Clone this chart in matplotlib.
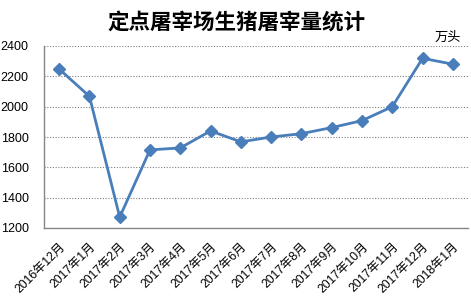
import matplotlib
matplotlib.use("Agg")
import matplotlib.pyplot as plt

plt.rcParams['font.family'] = ['Liberation Sans', 'Noto Sans CJK SC', 'DejaVu Sans']

categories = ["2016年12月", "2017年1月", "2017年2月", "2017年3月", "2017年4月", "2017年5月",
              "2017年6月", "2017年7月", "2017年8月", "2017年9月", "2017年10月", "2017年11月",
              "2017年12月", "2018年1月"]
values = [2248, 2068, 1272, 1715, 1728, 1840, 1768, 1800, 1822, 1862, 1908, 2000, 2319, 2280]
yticks = [1200, 1400, 1600, 1800, 2000, 2200, 2400]

W, H = 471, 303
fig = plt.figure(figsize=(W/100, H/100), dpi=100)
ax = fig.add_axes([44/W, 1-228/H, (468-44)/W, (228-46)/H])

x = list(range(len(categories)))
ax.plot(x, values, color='#4a7ebb', lw=2, marker='D', markersize=6.5,
        markerfacecolor='#4a7ebb', markeredgecolor='#4a7ebb', zorder=3)

ax.set_xlim(-0.5, len(categories)-0.5)
ax.set_ylim(1200, 2400)
ax.set_yticks(yticks)
ax.set_yticklabels([str(v) for v in yticks], fontsize=9)
ax.set_xticks(x)
ax.set_xticklabels(categories, rotation=45, ha='right', rotation_mode='anchor', fontsize=8.8)
ax.tick_params(axis='x', length=0, pad=9)
ax.tick_params(axis='y', length=0, pad=11)
ax.yaxis.grid(True, linestyle=(0, (1, 1.5)), color='#808080', lw=0.8)
ax.set_axisbelow(True)
for s in ['top', 'right']:
    ax.spines[s].set_visible(False)
for s in ['left', 'bottom']:
    ax.spines[s].set_color('#868686')
    ax.spines[s].set_linewidth(1)

fig.text(236/W, 1-22/H, "定点屠宰场生猪屠宰量统计", ha='center', va='center',
         fontsize=15.5, fontweight='bold', family=['Noto Sans CJK SC'])
fig.text(448/W, 1-37/H, "万头", ha='center', va='center', fontsize=9.5,
         family=['Noto Sans CJK SC'])

fig.savefig("out.png", dpi=100)
